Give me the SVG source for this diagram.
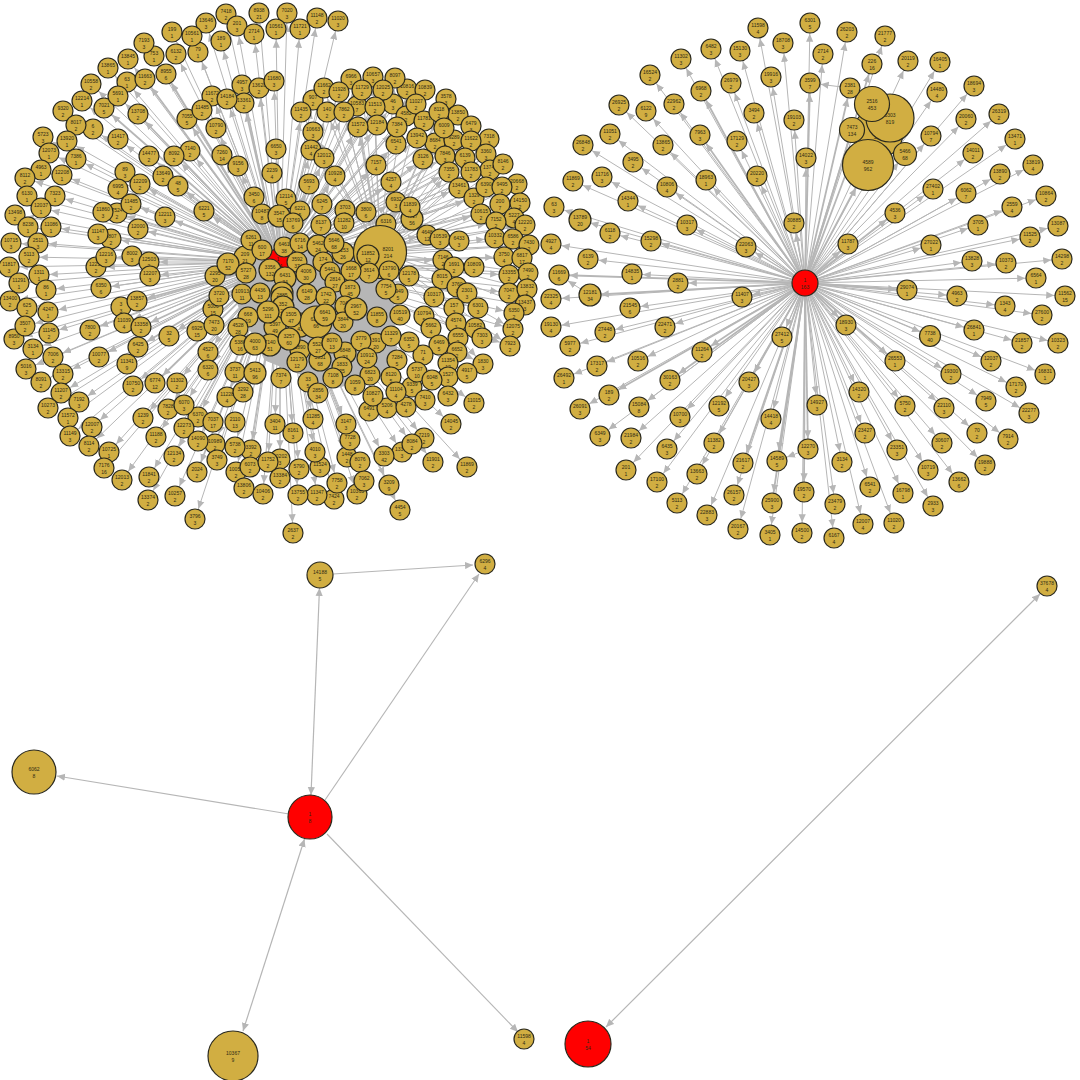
<svg xmlns="http://www.w3.org/2000/svg" width="1080" height="1080" viewBox="0 0 1080 1080">
<style>
.n circle{fill:#d1ae42;stroke:#2b2a1e;stroke-width:1.2}
.n .h{fill:#f00}
.n text{font-family:"Liberation Sans",Arial,sans-serif;font-size:5px;text-anchor:middle;fill:#2e2a14}
#connectors path{fill:none;stroke:#b6b6b6;stroke-width:1}
#connectors .t path{stroke-width:1.8}
#connectors .a path{marker-end:url(#a)}
#connectors .f path{fill:#b6b6b6;stroke-width:1}
#connectors .e path{marker-end:url(#e);stroke-width:1.1}
#connectors .d path{marker-start:url(#e);marker-end:url(#e);stroke-width:1.2}
</style>
<defs>
<marker id="a" markerUnits="userSpaceOnUse" markerWidth="20" markerHeight="8" viewBox="0 0 20 8" refX="18.8" refY="4" orient="auto"><path d="M0 .4L8 4 0 7.6Z" fill="#b6b6b6"/></marker>
<marker id="e" markerUnits="userSpaceOnUse" markerWidth="9" markerHeight="8" viewBox="0 0 9 8" refX="8" refY="4" orient="auto-start-reverse"><path d="M0 .4L8 4 0 7.6Z" fill="#b6b6b6"/></marker>
</defs>
<rect width="1080" height="1080" fill="#fff"/>
<g id="connectors">
<g class="f"><path d="M258 248L330 236 392 285 398 372 335 388 265 360 238 305Z"/></g>
<g class="a">
<path d="M280 262L226 14"/><path d="M280 262L259 13"/><path d="M280 262L206 23"/><path d="M280 262L237 26"/><path d="M280 262L254 34"/><path d="M280 262L172 32"/><path d="M280 262L192 36"/><path d="M280 262L221 41"/><path d="M280 262L198 52"/><path d="M280 262L144 43"/><path d="M280 262L154 56"/><path d="M280 262L176 54"/><path d="M280 262L128 59"/><path d="M280 262L108 68"/><path d="M280 262L127 82"/><path d="M280 262L91 84"/><path d="M280 262L118 96"/><path d="M280 262L82 101"/><path d="M280 262L63 111"/><path d="M280 262L76 125"/><path d="M280 262L93 129"/><path d="M280 262L43 137"/><path d="M280 262L67 141"/><path d="M280 262L118 139"/><path d="M280 262L49 153"/><path d="M280 262L76 159"/><path d="M280 262L41 170"/><path d="M280 262L62 175"/><path d="M280 262L25 178"/><path d="M280 262L27 196"/><path d="M280 262L55 196"/><path d="M280 262L41 208"/><path d="M280 262L15 215"/><path d="M280 262L28 227"/><path d="M280 262L51 227"/><path d="M280 262L11 243"/><path d="M280 262L38 243"/><path d="M280 262L29 257"/><path d="M280 262L125 172"/><path d="M280 262L118 189"/><path d="M280 262L140 184"/><path d="M280 262L149 156"/><path d="M280 262L174 156"/><path d="M280 262L190 151"/><path d="M280 262L163 176"/><path d="M280 262L178 186"/><path d="M280 262L131 204"/><path d="M280 262L103 212"/><path d="M280 262L117 213"/><path d="M280 262L165 217"/><path d="M280 262L204 211"/><path d="M280 262L138 229"/><path d="M280 262L98 234"/><path d="M280 262L111 239"/><path d="M280 262L106 257"/><path d="M280 262L132 256"/><path d="M280 262L149 262"/><path d="M280 262L96 267"/><path d="M280 262L202 110"/><path d="M280 262L212 96"/><path d="M280 262L227 99"/><path d="M280 262L242 85"/><path d="M280 262L259 88"/><path d="M280 262L216 128"/><path d="M280 262L222 155"/><path d="M280 262L238 166"/><path d="M280 262L287 13"/><path d="M280 262L276 29"/><path d="M280 262L300 29"/><path d="M280 262L317 18"/><path d="M280 262L338 21"/><path d="M280 262L274 81"/><path d="M280 262L351 79"/><path d="M280 262L373 77"/><path d="M280 262L395 78"/><path d="M280 262L324 88"/><path d="M280 262L339 92"/><path d="M280 262L362 90"/><path d="M280 262L383 90"/><path d="M280 262L407 89"/><path d="M280 262L425 90"/><path d="M280 262L446 99"/><path d="M280 262L313 100"/><path d="M280 262L301 112"/><path d="M280 262L327 112"/><path d="M280 262L344 112"/><path d="M280 262L357 106"/><path d="M280 262L375 107"/><path d="M280 262L393 104"/><path d="M280 262L406 116"/><path d="M280 262L416 104"/><path d="M280 262L439 112"/><path d="M280 262L458 115"/><path d="M280 262L471 126"/><path d="M280 262L424 121"/><path d="M280 262L444 128"/><path d="M280 262L397 127"/><path d="M280 262L377 125"/><path d="M280 262L358 127"/><path d="M280 262L313 132"/><path d="M280 262L417 138"/><path d="M280 262L396 144"/><path d="M280 262L435 143"/><path d="M280 262L454 140"/><path d="M280 262L471 141"/><path d="M280 262L489 139"/><path d="M280 262L276 149"/><path d="M280 262L311 150"/><path d="M280 262L324 158"/><path d="M280 262L486 154"/><path d="M280 262L423 159"/><path d="M280 262L445 156"/><path d="M280 262L465 158"/><path d="M280 262L503 164"/><path d="M280 262L490 170"/><path d="M280 262L376 165"/><path d="M280 262L449 172"/><path d="M280 262L471 172"/><path d="M280 262L459 188"/><path d="M280 262L335 176"/><path d="M280 262L309 184"/><path d="M280 262L391 182"/><path d="M280 262L486 187"/><path d="M280 262L502 187"/><path d="M280 262L517 184"/><path d="M280 262L474 198"/><path d="M280 262L500 204"/><path d="M280 262L520 203"/><path d="M280 262L396 202"/><path d="M280 262L410 207"/><path d="M280 262L481 214"/><path d="M280 262L496 222"/><path d="M280 262L514 218"/><path d="M280 262L525 225"/><path d="M280 262L427 235"/><path d="M280 262L440 239"/><path d="M280 262L459 241"/><path d="M280 262L495 238"/><path d="M280 262L513 239"/><path d="M280 262L529 245"/><path d="M280 262L504 257"/><path d="M280 262L522 258"/><path d="M280 262L443 260"/><path d="M280 262L454 267"/><path d="M280 262L474 267"/><path d="M280 262L509 275"/><path d="M280 262L528 273"/><path d="M280 262L527 289"/><path d="M280 262L509 293"/><path d="M280 262L525 305"/><path d="M280 262L514 313"/><path d="M280 262L513 329"/><path d="M280 262L510 346"/><path d="M280 262L483 364"/><path d="M280 262L482 338"/><path d="M280 262L475 328"/><path d="M280 262L478 308"/><path d="M280 262L467 293"/><path d="M280 262L467 373"/><path d="M280 262L474 403"/><path d="M280 262L451 424"/><path d="M280 262L467 467"/><path d="M280 262L433 462"/><path d="M280 262L424 438"/><path d="M280 262L412 444"/><path d="M280 262L402 452"/><path d="M280 262L384 456"/><path d="M280 262L389 485"/><path d="M280 262L400 510"/><path d="M280 262L364 481"/><path d="M280 262L360 462"/><path d="M280 262L347 457"/><path d="M280 262L350 440"/><path d="M280 262L346 424"/><path d="M280 262L313 419"/><path d="M280 262L293 433"/><path d="M280 262L275 424"/><path d="M280 262L315 452"/><path d="M280 262L320 467"/><path d="M280 262L299 469"/><path d="M280 262L280 459"/><path d="M280 262L280 478"/><path d="M280 262L337 483"/><path d="M280 262L357 494"/><path d="M280 262L334 499"/><path d="M280 262L317 495"/><path d="M280 262L298 495"/><path d="M280 262L293 533"/><path d="M280 262L19 283"/><path d="M280 262L39 275"/><path d="M280 262L9 267"/><path d="M280 262L10 301"/><path d="M280 262L46 290"/><path d="M280 262L27 308"/><path d="M280 262L48 312"/><path d="M280 262L25 326"/><path d="M280 262L49 333"/><path d="M280 262L14 339"/><path d="M280 262L33 349"/><path d="M280 262L53 357"/><path d="M280 262L26 369"/><path d="M280 262L41 382"/><path d="M280 262L63 374"/><path d="M280 262L61 393"/><path d="M280 262L79 402"/><path d="M280 262L48 408"/><path d="M280 262L68 418"/><path d="M280 262L70 436"/><path d="M280 262L92 427"/><path d="M280 262L89 446"/><path d="M280 262L109 452"/><path d="M280 262L104 468"/><path d="M280 262L122 480"/><path d="M280 262L150 276"/><path d="M280 262L101 288"/><path d="M280 262L121 307"/><path d="M280 262L124 323"/><path d="M280 262L90 330"/><path d="M280 262L169 336"/><path d="M280 262L99 357"/><path d="M280 262L127 364"/><path d="M280 262L133 386"/><path d="M280 262L177 383"/><path d="M280 262L143 418"/><path d="M280 262L168 409"/><path d="M280 262L184 405"/><path d="M280 262L198 417"/><path d="M280 262L184 428"/><path d="M280 262L156 437"/><path d="M280 262L198 441"/><path d="M280 262L215 444"/><path d="M280 262L235 447"/><path d="M280 262L251 450"/><path d="M280 262L217 460"/><path d="M280 262L174 456"/><path d="M280 262L149 477"/><path d="M280 262L148 500"/><path d="M280 262L175 496"/><path d="M280 262L195 519"/><path d="M280 262L236 472"/><path d="M280 262L250 467"/><path d="M280 262L268 462"/><path d="M280 262L244 488"/><path d="M280 262L263 494"/><path d="M280 262L208 352"/><path d="M280 262L208 370"/><path d="M380 252L351 79"/><path d="M380 252L373 77"/><path d="M380 252L395 78"/><path d="M380 252L324 88"/><path d="M380 252L339 92"/><path d="M380 252L362 90"/><path d="M380 252L407 89"/><path d="M380 252L425 90"/><path d="M380 252L446 99"/><path d="M380 252L439 112"/><path d="M380 252L458 115"/><path d="M380 252L471 126"/><path d="M380 252L444 128"/><path d="M380 252L301 112"/><path d="M380 252L327 112"/><path d="M380 252L344 112"/><path d="M380 252L357 106"/><path d="M380 252L375 107"/><path d="M380 252L313 132"/><path d="M380 252L358 127"/><path d="M380 252L435 143"/><path d="M380 252L471 141"/><path d="M380 252L489 139"/><path d="M380 252L486 154"/><path d="M380 252L311 150"/><path d="M380 252L324 158"/><path d="M380 252L449 172"/><path d="M380 252L471 172"/><path d="M380 252L503 164"/><path d="M380 252L486 187"/><path d="M380 252L517 184"/><path d="M380 252L500 204"/><path d="M380 252L520 203"/><path d="M380 252L525 225"/><path d="M380 252L529 245"/><path d="M380 252L528 273"/><path d="M380 252L527 289"/><path d="M380 252L525 305"/><path d="M380 252L513 329"/><path d="M380 252L510 346"/><path d="M380 252L483 364"/><path d="M380 252L482 338"/>
<path d="M805 283L758 28"/><path d="M805 283L810 23"/><path d="M805 283L783 43"/><path d="M805 283L711 49"/><path d="M805 283L740 51"/><path d="M805 283L681 59"/><path d="M805 283L771 77"/><path d="M805 283L650 75"/><path d="M805 283L731 83"/><path d="M805 283L619 105"/><path d="M805 283L646 111"/><path d="M805 283L674 104"/><path d="M805 283L754 113"/><path d="M805 283L794 120"/><path d="M805 283L610 134"/><path d="M805 283L737 141"/><path d="M805 283L583 145"/><path d="M805 283L663 145"/><path d="M805 283L806 158"/><path d="M805 283L633 162"/><path d="M805 283L706 180"/><path d="M805 283L757 176"/><path d="M805 283L602 177"/><path d="M805 283L573 181"/><path d="M805 283L667 187"/><path d="M805 283L628 201"/><path d="M805 283L554 207"/><path d="M805 283L580 220"/><path d="M805 283L610 233"/><path d="M805 283L687 225"/><path d="M805 283L794 223"/><path d="M805 283L651 241"/><path d="M805 283L746 247"/><path d="M805 283L551 244"/><path d="M805 283L588 259"/><path d="M805 283L632 274"/><path d="M805 283L847 32"/><path d="M805 283L885 36"/><path d="M805 283L823 54"/><path d="M805 283L908 61"/><path d="M805 283L940 62"/><path d="M805 283L937 92"/><path d="M805 283L974 86"/><path d="M805 283L905 154"/><path d="M805 283L931 136"/><path d="M805 283L966 119"/><path d="M805 283L999 114"/><path d="M805 283L1015 139"/><path d="M805 283L973 153"/><path d="M805 283L1033 165"/><path d="M805 283L1000 174"/><path d="M805 283L933 189"/><path d="M805 283L966 193"/><path d="M805 283L1012 207"/><path d="M805 283L1046 196"/><path d="M805 283L978 225"/><path d="M805 283L931 245"/><path d="M805 283L1030 237"/><path d="M805 283L1058 226"/><path d="M805 283L1062 259"/><path d="M805 283L972 261"/><path d="M805 283L1006 263"/><path d="M805 283L678 283"/><path d="M805 283L742 297"/><path d="M805 283L551 299"/><path d="M805 283L630 308"/><path d="M805 283L551 327"/><path d="M805 283L570 346"/><path d="M805 283L605 332"/><path d="M805 283L665 327"/><path d="M805 283L782 337"/><path d="M805 283L638 361"/><path d="M805 283L597 366"/><path d="M805 283L564 378"/><path d="M805 283L580 409"/><path d="M805 283L639 407"/><path d="M805 283L719 406"/><path d="M805 283L680 417"/><path d="M805 283L771 419"/><path d="M805 283L600 436"/><path d="M805 283L631 438"/><path d="M805 283L714 443"/><path d="M805 283L667 449"/><path d="M805 283L626 470"/><path d="M805 283L657 482"/><path d="M805 283L697 474"/><path d="M805 283L734 495"/><path d="M805 283L677 503"/><path d="M805 283L707 515"/><path d="M805 283L738 529"/><path d="M805 283L770 535"/><path d="M805 283L802 533"/><path d="M805 283L1036 278"/><path d="M805 283L1065 296"/><path d="M805 283L957 296"/><path d="M805 283L1005 306"/><path d="M805 283L1042 315"/><path d="M805 283L974 330"/><path d="M805 283L930 336"/><path d="M805 283L1022 343"/><path d="M805 283L1058 343"/><path d="M805 283L991 361"/><path d="M805 283L951 374"/><path d="M805 283L1045 374"/><path d="M805 283L1016 387"/><path d="M805 283L859 392"/><path d="M805 283L986 401"/><path d="M805 283L905 406"/><path d="M805 283L944 408"/><path d="M805 283L1029 413"/><path d="M805 283L817 405"/><path d="M805 283L865 433"/><path d="M805 283L977 433"/><path d="M805 283L1008 439"/><path d="M805 283L942 443"/><path d="M805 283L897 450"/><path d="M805 283L842 462"/><path d="M805 283L985 465"/><path d="M805 283L928 470"/><path d="M805 283L959 482"/><path d="M805 283L870 487"/><path d="M805 283L903 493"/><path d="M805 283L933 506"/><path d="M805 283L835 504"/><path d="M805 283L863 524"/><path d="M805 283L894 523"/><path d="M805 283L834 538"/><path d="M590 295L559 275"/><path d="M850 88L810 83"/><path d="M808 449L777 461"/>
</g>
<g class="a t">
<path d="M280 262L166 74"/><path d="M280 262L145 79"/><path d="M280 262L104 108"/><path d="M280 262L138 114"/><path d="M280 262L187 119"/><path d="M280 262L244 103"/><path d="M280 262L137 301"/><path d="M280 262L141 327"/><path d="M280 262L138 347"/><path d="M280 262L155 383"/><path d="M280 262L197 331"/><path d="M280 262L197 472"/><path d="M280 262L227 397"/>
<path d="M805 283L810 83"/><path d="M805 283L701 91"/><path d="M805 283L700 135"/><path d="M805 283L850 88"/><path d="M805 283L872 64"/><path d="M805 283L848 244"/><path d="M805 283L895 213"/><path d="M805 283L907 290"/><path d="M805 283L590 295"/><path d="M805 283L702 352"/><path d="M805 283L670 380"/><path d="M805 283L609 395"/><path d="M805 283L749 382"/><path d="M805 283L743 463"/><path d="M805 283L777 461"/><path d="M805 283L808 449"/><path d="M805 283L804 492"/><path d="M805 283L772 503"/><path d="M805 283L846 325"/><path d="M805 283L895 361"/><path d="M805 283L559 275"/>
</g>
<g class="t"><path d="M805 283L856 187"/><path d="M805 283L852 130"/><path d="M805 283L872 104"/></g>
<g class="e"><path d="M805 283L856 188"/><path d="M333 574L473 565"/><path d="M325 800L479 574"/><path d="M289 814L57 776"/><path d="M327 834L518 1032"/></g>
<g class="d"><path d="M311 795L319.5 588"/><path d="M304.5 839L243 1031"/><path d="M606 1027L1040 594"/></g>
</g>
<g id="nodes" class="n">
<g id="hubL" transform="translate(278 262)"><circle class="h" r="13"/><text y="-1">1</text><text y="5.5">394</text></g>
<g id="L7418" transform="translate(226 14)"><circle r="10"/><text y="-1">7418</text><text y="5.5">2</text></g>
<g id="L8938" transform="translate(259 13)"><circle r="10"/><text y="-1">8938</text><text y="5.5">21</text></g>
<g id="L201" transform="translate(237 26)"><circle r="10"/><text y="-1">201</text><text y="5.5">3</text></g>
<g id="L13646" transform="translate(206 23)"><circle r="10"/><text y="-1">13646</text><text y="5.5">3</text></g>
<g id="L2714" transform="translate(254 34)"><circle r="10"/><text y="-1">2714</text><text y="5.5">1</text></g>
<g id="L199" transform="translate(172 32)"><circle r="10"/><text y="-1">199</text><text y="5.5">1</text></g>
<g id="L79" transform="translate(198 52)"><circle r="10"/><text y="-1">79</text><text y="5.5">1</text></g>
<g id="L10561" transform="translate(192 36)"><circle r="10"/><text y="-1">10561</text><text y="5.5">1</text></g>
<g id="L189" transform="translate(221 41)"><circle r="10"/><text y="-1">189</text><text y="5.5">1</text></g>
<g id="L753" transform="translate(154 56)"><circle r="10"/><text y="-1">753</text><text y="5.5">1</text></g>
<g id="L7193" transform="translate(144 43)"><circle r="10"/><text y="-1">7193</text><text y="5.5">3</text></g>
<g id="L6132" transform="translate(176 54)"><circle r="10"/><text y="-1">6132</text><text y="5.5">2</text></g>
<g id="L13845" transform="translate(128 59)"><circle r="10"/><text y="-1">13845</text><text y="5.5">1</text></g>
<g id="L13865" transform="translate(108 68)"><circle r="10"/><text y="-1">13865</text><text y="5.5">1</text></g>
<g id="L8955" transform="translate(166 74)"><circle r="10"/><text y="-1">8955</text><text y="5.5">6</text></g>
<g id="L63" transform="translate(127 82)"><circle r="10"/><text y="-1">63</text><text y="5.5">1</text></g>
<g id="L11663" transform="translate(145 79)"><circle r="10"/><text y="-1">11663</text><text y="5.5">2</text></g>
<g id="L10558" transform="translate(91 84)"><circle r="10"/><text y="-1">10558</text><text y="5.5">2</text></g>
<g id="L12214" transform="translate(82 101)"><circle r="10"/><text y="-1">12214</text><text y="5.5">1</text></g>
<g id="L7021" transform="translate(104 108)"><circle r="10"/><text y="-1">7021</text><text y="5.5">5</text></g>
<g id="L5691" transform="translate(118 96)"><circle r="10"/><text y="-1">5691</text><text y="5.5">1</text></g>
<g id="L9320" transform="translate(63 111)"><circle r="10"/><text y="-1">9320</text><text y="5.5">2</text></g>
<g id="L13708" transform="translate(138 114)"><circle r="10"/><text y="-1">13708</text><text y="5.5">2</text></g>
<g id="L6" transform="translate(93 129)"><circle r="10"/><text y="-1">6</text><text y="5.5">2</text></g>
<g id="L8017" transform="translate(76 125)"><circle r="10"/><text y="-1">8017</text><text y="5.5">2</text></g>
<g id="L5723" transform="translate(43 137)"><circle r="10"/><text y="-1">5723</text><text y="5.5">3</text></g>
<g id="L13920" transform="translate(67 141)"><circle r="10"/><text y="-1">13920</text><text y="5.5">1</text></g>
<g id="L11417" transform="translate(118 139)"><circle r="10"/><text y="-1">11417</text><text y="5.5">2</text></g>
<g id="L12073" transform="translate(49 153)"><circle r="10"/><text y="-1">12073</text><text y="5.5">1</text></g>
<g id="L7386" transform="translate(76 159)"><circle r="10"/><text y="-1">7386</text><text y="5.5">1</text></g>
<g id="L4963" transform="translate(41 170)"><circle r="10"/><text y="-1">4963</text><text y="5.5">1</text></g>
<g id="L12208" transform="translate(62 175)"><circle r="10"/><text y="-1">12208</text><text y="5.5">1</text></g>
<g id="L8112" transform="translate(25 178)"><circle r="10"/><text y="-1">8112</text><text y="5.5">2</text></g>
<g id="L6130" transform="translate(27 196)"><circle r="10"/><text y="-1">6130</text><text y="5.5">1</text></g>
<g id="L7323" transform="translate(55 196)"><circle r="10"/><text y="-1">7323</text><text y="5.5">1</text></g>
<g id="L12037" transform="translate(41 208)"><circle r="10"/><text y="-1">12037</text><text y="5.5">1</text></g>
<g id="L13498" transform="translate(15 215)"><circle r="10"/><text y="-1">13498</text><text y="5.5">2</text></g>
<g id="L8238" transform="translate(28 227)"><circle r="10"/><text y="-1">8238</text><text y="5.5">1</text></g>
<g id="L11086" transform="translate(51 227)"><circle r="10"/><text y="-1">11086</text><text y="5.5">1</text></g>
<g id="L10715" transform="translate(11 243)"><circle r="10"/><text y="-1">10715</text><text y="5.5">3</text></g>
<g id="L2511" transform="translate(38 243)"><circle r="10"/><text y="-1">2511</text><text y="5.5">3</text></g>
<g id="L11817" transform="translate(9 267)"><circle r="10"/><text y="-1">11817</text><text y="5.5">3</text></g>
<g id="L5113" transform="translate(29 257)"><circle r="10"/><text y="-1">5113</text><text y="5.5">2</text></g>
<g id="L1311" transform="translate(39 275)"><circle r="10"/><text y="-1">1311</text><text y="5.5">1</text></g>
<g id="L11291" transform="translate(19 283)"><circle r="10"/><text y="-1">11291</text><text y="5.5">1</text></g>
<g id="L89" transform="translate(125 172)"><circle r="10"/><text y="-1">89</text><text y="5.5">3</text></g>
<g id="L12209" transform="translate(140 184)"><circle r="10"/><text y="-1">12209</text><text y="5.5">2</text></g>
<g id="L6995" transform="translate(118 189)"><circle r="10"/><text y="-1">6995</text><text y="5.5">4</text></g>
<g id="L14477" transform="translate(149 156)"><circle r="10"/><text y="-1">14477</text><text y="5.5">2</text></g>
<g id="L7140" transform="translate(190 151)"><circle r="10"/><text y="-1">7140</text><text y="5.5">2</text></g>
<g id="L8092" transform="translate(174 156)"><circle r="10"/><text y="-1">8092</text><text y="5.5">2</text></g>
<g id="L13649" transform="translate(163 176)"><circle r="10"/><text y="-1">13649</text><text y="5.5">2</text></g>
<g id="L48" transform="translate(178 186)"><circle r="10"/><text y="-1">48</text><text y="5.5">5</text></g>
<g id="L7524" transform="translate(117 213)"><circle r="10"/><text y="-1">7524</text><text y="5.5">2</text></g>
<g id="L11485" transform="translate(131 204)"><circle r="10"/><text y="-1">11485</text><text y="5.5">2</text></g>
<g id="L11860" transform="translate(103 212)"><circle r="10"/><text y="-1">11860</text><text y="5.5">3</text></g>
<g id="L12211" transform="translate(165 217)"><circle r="10"/><text y="-1">12211</text><text y="5.5">3</text></g>
<g id="L6221" transform="translate(204 211)"><circle r="10"/><text y="-1">6221</text><text y="5.5">5</text></g>
<g id="L12000" transform="translate(138 229)"><circle r="10"/><text y="-1">12000</text><text y="5.5">2</text></g>
<g id="L6807" transform="translate(111 239)"><circle r="10"/><text y="-1">6807</text><text y="5.5">2</text></g>
<g id="L11147" transform="translate(98 234)"><circle r="10"/><text y="-1">11147</text><text y="5.5">3</text></g>
<g id="L12255" transform="translate(96 267)"><circle r="10"/><text y="-1">12255</text><text y="5.5">2</text></g>
<g id="L12216" transform="translate(106 257)"><circle r="10"/><text y="-1">12216</text><text y="5.5">3</text></g>
<g id="L8002" transform="translate(132 256)"><circle r="10"/><text y="-1">8002</text><text y="5.5">3</text></g>
<g id="L12503" transform="translate(149 262)"><circle r="10"/><text y="-1">12503</text><text y="5.5">2</text></g>
<g id="L7055" transform="translate(187 119)"><circle r="10"/><text y="-1">7055</text><text y="5.5">5</text></g>
<g id="L11672" transform="translate(212 96)"><circle r="10"/><text y="-1">11672</text><text y="5.5">2</text></g>
<g id="L11485b" transform="translate(202 110)"><circle r="10"/><text y="-1">11485</text><text y="5.5">2</text></g>
<g id="L4957" transform="translate(242 85)"><circle r="10"/><text y="-1">4957</text><text y="5.5">3</text></g>
<g id="L13361" transform="translate(244 103)"><circle r="10"/><text y="-1">13361</text><text y="5.5">2</text></g>
<g id="L14184" transform="translate(227 99)"><circle r="10"/><text y="-1">14184</text><text y="5.5">2</text></g>
<g id="L13628" transform="translate(259 88)"><circle r="10"/><text y="-1">13628</text><text y="5.5">2</text></g>
<g id="L10790" transform="translate(216 128)"><circle r="10"/><text y="-1">10790</text><text y="5.5">2</text></g>
<g id="L7260" transform="translate(222 155)"><circle r="10"/><text y="-1">7260</text><text y="5.5">14</text></g>
<g id="L9156" transform="translate(238 166)"><circle r="10"/><text y="-1">9156</text><text y="5.5">3</text></g>
<g id="L3450" transform="translate(254 197)"><circle r="10"/><text y="-1">3450</text><text y="5.5">6</text></g>
<g id="L10487" transform="translate(262 214)"><circle r="10"/><text y="-1">10487</text><text y="5.5">8</text></g>
<g id="L7020" transform="translate(287 13)"><circle r="10"/><text y="-1">7020</text><text y="5.5">3</text></g>
<g id="L10561b" transform="translate(276 29)"><circle r="10"/><text y="-1">10561</text><text y="5.5">1</text></g>
<g id="L11721" transform="translate(300 29)"><circle r="10"/><text y="-1">11721</text><text y="5.5">1</text></g>
<g id="L11148" transform="translate(317 18)"><circle r="10"/><text y="-1">11148</text><text y="5.5">2</text></g>
<g id="L11020" transform="translate(338 21)"><circle r="10"/><text y="-1">11020</text><text y="5.5">3</text></g>
<g id="L11680" transform="translate(274 81)"><circle r="10"/><text y="-1">11680</text><text y="5.5">3</text></g>
<g id="L6966" transform="translate(351 79)"><circle r="10"/><text y="-1">6966</text><text y="5.5">3</text></g>
<g id="L10657" transform="translate(373 77)"><circle r="10"/><text y="-1">10657</text><text y="5.5">3</text></g>
<g id="L10816" transform="translate(407 89)"><circle r="10"/><text y="-1">10816</text><text y="5.5">2</text></g>
<g id="L8097" transform="translate(395 78)"><circle r="10"/><text y="-1">8097</text><text y="5.5">2</text></g>
<g id="L10839" transform="translate(425 90)"><circle r="10"/><text y="-1">10839</text><text y="5.5">2</text></g>
<g id="L3578" transform="translate(446 99)"><circle r="10"/><text y="-1">3578</text><text y="5.5">3</text></g>
<g id="L907" transform="translate(313 100)"><circle r="10"/><text y="-1">907</text><text y="5.5">2</text></g>
<g id="L11662" transform="translate(324 88)"><circle r="10"/><text y="-1">11662</text><text y="5.5">2</text></g>
<g id="L10583" transform="translate(357 106)"><circle r="10"/><text y="-1">10583</text><text y="5.5">7</text></g>
<g id="L11928" transform="translate(339 92)"><circle r="10"/><text y="-1">11928</text><text y="5.5">2</text></g>
<g id="L11729" transform="translate(362 90)"><circle r="10"/><text y="-1">11729</text><text y="5.5">2</text></g>
<g id="L46" transform="translate(393 104)"><circle r="10"/><text y="-1">46</text><text y="5.5">3</text></g>
<g id="L12025" transform="translate(383 90)"><circle r="10"/><text y="-1">12025</text><text y="5.5">2</text></g>
<g id="L11435" transform="translate(301 112)"><circle r="10"/><text y="-1">11435</text><text y="5.5">2</text></g>
<g id="L140" transform="translate(327 112)"><circle r="10"/><text y="-1">140</text><text y="5.5">2</text></g>
<g id="L7862" transform="translate(344 112)"><circle r="10"/><text y="-1">7862</text><text y="5.5">2</text></g>
<g id="L11513" transform="translate(375 107)"><circle r="10"/><text y="-1">11513</text><text y="5.5">2</text></g>
<g id="L4582" transform="translate(406 116)"><circle r="10"/><text y="-1">4582</text><text y="5.5">2</text></g>
<g id="L11027" transform="translate(416 104)"><circle r="10"/><text y="-1">11027</text><text y="5.5">2</text></g>
<g id="L13850" transform="translate(458 115)"><circle r="10"/><text y="-1">13850</text><text y="5.5">2</text></g>
<g id="L6479" transform="translate(471 126)"><circle r="10"/><text y="-1">6479</text><text y="5.5">3</text></g>
<g id="L11781" transform="translate(424 121)"><circle r="10"/><text y="-1">11781</text><text y="5.5">2</text></g>
<g id="L8118" transform="translate(439 112)"><circle r="10"/><text y="-1">8118</text><text y="5.5">2</text></g>
<g id="L8684" transform="translate(435 143)"><circle r="10"/><text y="-1">8684</text><text y="5.5">2</text></g>
<g id="L9289" transform="translate(454 140)"><circle r="10"/><text y="-1">9289</text><text y="5.5">2</text></g>
<g id="L6009" transform="translate(444 128)"><circle r="10"/><text y="-1">6009</text><text y="5.5">2</text></g>
<g id="L6541" transform="translate(396 144)"><circle r="10"/><text y="-1">6541</text><text y="5.5">2</text></g>
<g id="L7384" transform="translate(397 127)"><circle r="10"/><text y="-1">7384</text><text y="5.5">2</text></g>
<g id="L12184" transform="translate(377 125)"><circle r="10"/><text y="-1">12184</text><text y="5.5">2</text></g>
<g id="L11572" transform="translate(358 127)"><circle r="10"/><text y="-1">11572</text><text y="5.5">2</text></g>
<g id="L10663" transform="translate(313 132)"><circle r="10"/><text y="-1">10663</text><text y="5.5">3</text></g>
<g id="L13942" transform="translate(417 138)"><circle r="10"/><text y="-1">13942</text><text y="5.5">2</text></g>
<g id="L7318" transform="translate(489 139)"><circle r="10"/><text y="-1">7318</text><text y="5.5">3</text></g>
<g id="L11622" transform="translate(471 141)"><circle r="10"/><text y="-1">11622</text><text y="5.5">2</text></g>
<g id="L6650" transform="translate(276 149)"><circle r="10"/><text y="-1">6650</text><text y="5.5">3</text></g>
<g id="L11442" transform="translate(311 150)"><circle r="10"/><text y="-1">11442</text><text y="5.5">4</text></g>
<g id="L12012" transform="translate(324 158)"><circle r="10"/><text y="-1">12012</text><text y="5.5">3</text></g>
<g id="L3360" transform="translate(486 154)"><circle r="10"/><text y="-1">3360</text><text y="5.5">3</text></g>
<g id="L3126" transform="translate(423 159)"><circle r="10"/><text y="-1">3126</text><text y="5.5">2</text></g>
<g id="L7846" transform="translate(445 156)"><circle r="10"/><text y="-1">7846</text><text y="5.5">3</text></g>
<g id="L13746" transform="translate(490 170)"><circle r="10"/><text y="-1">13746</text><text y="5.5">2</text></g>
<g id="L6139" transform="translate(465 158)"><circle r="10"/><text y="-1">6139</text><text y="5.5">2</text></g>
<g id="L8146" transform="translate(503 164)"><circle r="10"/><text y="-1">8146</text><text y="5.5">2</text></g>
<g id="L7157" transform="translate(376 165)"><circle r="10"/><text y="-1">7157</text><text y="5.5">4</text></g>
<g id="L7355" transform="translate(449 172)"><circle r="10"/><text y="-1">7355</text><text y="5.5">2</text></g>
<g id="L11783" transform="translate(471 172)"><circle r="10"/><text y="-1">11783</text><text y="5.5">2</text></g>
<g id="L2239" transform="translate(272 173)"><circle r="10"/><text y="-1">2239</text><text y="5.5">4</text></g>
<g id="L10928" transform="translate(335 176)"><circle r="10"/><text y="-1">10928</text><text y="5.5">4</text></g>
<g id="L5693" transform="translate(309 184)"><circle r="10"/><text y="-1">5693</text><text y="5.5">7</text></g>
<g id="L4257" transform="translate(391 182)"><circle r="10"/><text y="-1">4257</text><text y="5.5">4</text></g>
<g id="L13461" transform="translate(459 188)"><circle r="10"/><text y="-1">13461</text><text y="5.5">2</text></g>
<g id="L1329" transform="translate(474 198)"><circle r="10"/><text y="-1">1329</text><text y="5.5">2</text></g>
<g id="L6390" transform="translate(486 187)"><circle r="10"/><text y="-1">6390</text><text y="5.5">2</text></g>
<g id="L20668" transform="translate(517 184)"><circle r="10"/><text y="-1">20668</text><text y="5.5">2</text></g>
<g id="L9495" transform="translate(502 187)"><circle r="10"/><text y="-1">9495</text><text y="5.5">2</text></g>
<g id="L200" transform="translate(500 204)"><circle r="10"/><text y="-1">200</text><text y="5.5">7</text></g>
<g id="L14150" transform="translate(520 203)"><circle r="10"/><text y="-1">14150</text><text y="5.5">2</text></g>
<g id="L10615" transform="translate(481 214)"><circle r="10"/><text y="-1">10615</text><text y="5.5">2</text></g>
<g id="L5227" transform="translate(514 218)"><circle r="10"/><text y="-1">5227</text><text y="5.5">4</text></g>
<g id="L7152" transform="translate(496 222)"><circle r="10"/><text y="-1">7152</text><text y="5.5">2</text></g>
<g id="L12220" transform="translate(525 225)"><circle r="10"/><text y="-1">12220</text><text y="5.5">2</text></g>
<g id="L10332" transform="translate(495 238)"><circle r="10"/><text y="-1">10332</text><text y="5.5">2</text></g>
<g id="L6586" transform="translate(513 239)"><circle r="10"/><text y="-1">6586</text><text y="5.5">2</text></g>
<g id="L7430" transform="translate(529 245)"><circle r="10"/><text y="-1">7430</text><text y="5.5">2</text></g>
<g id="L4917a" transform="translate(412 219)"><circle r="11"/><text y="-1">4917</text><text y="5.5">56</text></g>
<g id="L6932" transform="translate(396 202)"><circle r="10"/><text y="-1">6932</text><text y="5.5">3</text></g>
<g id="L11839" transform="translate(410 207)"><circle r="10"/><text y="-1">11839</text><text y="5.5">4</text></g>
<g id="L4648" transform="translate(427 235)"><circle r="10"/><text y="-1">4648</text><text y="5.5">12</text></g>
<g id="L10539" transform="translate(440 239)"><circle r="10"/><text y="-1">10539</text><text y="5.5">3</text></g>
<g id="L6433" transform="translate(459 241)"><circle r="10"/><text y="-1">6433</text><text y="5.5">3</text></g>
<g id="L3750" transform="translate(504 257)"><circle r="10"/><text y="-1">3750</text><text y="5.5">4</text></g>
<g id="L6817" transform="translate(522 258)"><circle r="10"/><text y="-1">6817</text><text y="5.5">17</text></g>
<g id="L7146" transform="translate(443 260)"><circle r="10"/><text y="-1">7146</text><text y="5.5">2</text></g>
<g id="L1691" transform="translate(454 267)"><circle r="10"/><text y="-1">1691</text><text y="5.5">2</text></g>
<g id="L10809" transform="translate(474 267)"><circle r="10"/><text y="-1">10809</text><text y="5.5">2</text></g>
<g id="L7490" transform="translate(528 273)"><circle r="10"/><text y="-1">7490</text><text y="5.5">2</text></g>
<g id="L13355" transform="translate(509 275)"><circle r="10"/><text y="-1">13355</text><text y="5.5">2</text></g>
<g id="L8015" transform="translate(442 279)"><circle r="10"/><text y="-1">8015</text><text y="5.5">7</text></g>
<g id="L3760" transform="translate(457 287)"><circle r="10"/><text y="-1">3760</text><text y="5.5">3</text></g>
<g id="L2301" transform="translate(467 293)"><circle r="10"/><text y="-1">2301</text><text y="5.5">3</text></g>
<g id="L7047" transform="translate(509 293)"><circle r="10"/><text y="-1">7047</text><text y="5.5">2</text></g>
<g id="L13832" transform="translate(527 289)"><circle r="10"/><text y="-1">13832</text><text y="5.5">2</text></g>
<g id="L13437" transform="translate(525 305)"><circle r="10"/><text y="-1">13437</text><text y="5.5">3</text></g>
<g id="L6350b" transform="translate(514 313)"><circle r="10"/><text y="-1">6350</text><text y="5.5">2</text></g>
<g id="L12075" transform="translate(513 329)"><circle r="10"/><text y="-1">12075</text><text y="5.5">2</text></g>
<g id="L7923" transform="translate(510 346)"><circle r="10"/><text y="-1">7923</text><text y="5.5">2</text></g>
<g id="L6301" transform="translate(478 308)"><circle r="10"/><text y="-1">6301</text><text y="5.5">3</text></g>
<g id="L10317" transform="translate(434 297)"><circle r="10"/><text y="-1">10317</text><text y="5.5">5</text></g>
<g id="L157" transform="translate(454 308)"><circle r="10"/><text y="-1">157</text><text y="5.5">3</text></g>
<g id="L10794" transform="translate(424 316)"><circle r="10"/><text y="-1">10794</text><text y="5.5">5</text></g>
<g id="L10582" transform="translate(475 328)"><circle r="10"/><text y="-1">10582</text><text y="5.5">2</text></g>
<g id="L4574" transform="translate(456 323)"><circle r="10"/><text y="-1">4574</text><text y="5.5">3</text></g>
<g id="L5662" transform="translate(431 328)"><circle r="10"/><text y="-1">5662</text><text y="5.5">4</text></g>
<g id="L6555" transform="translate(458 338)"><circle r="10"/><text y="-1">6555</text><text y="5.5">2</text></g>
<g id="L7303" transform="translate(482 338)"><circle r="10"/><text y="-1">7303</text><text y="5.5">3</text></g>
<g id="L6469" transform="translate(439 345)"><circle r="10"/><text y="-1">6469</text><text y="5.5">5</text></g>
<g id="L6652" transform="translate(457 352)"><circle r="10"/><text y="-1">6652</text><text y="5.5">2</text></g>
<g id="L71" transform="translate(423 355)"><circle r="10"/><text y="-1">71</text><text y="5.5">4</text></g>
<g id="L1830" transform="translate(483 364)"><circle r="10"/><text y="-1">1830</text><text y="5.5">3</text></g>
<g id="L11354" transform="translate(448 363)"><circle r="10"/><text y="-1">11354</text><text y="5.5">12</text></g>
<g id="L1527" transform="translate(448 377)"><circle r="10"/><text y="-1">1527</text><text y="5.5">3</text></g>
<g id="L4917b" transform="translate(467 373)"><circle r="10"/><text y="-1">4917</text><text y="5.5">5</text></g>
<g id="L6432" transform="translate(448 396)"><circle r="10"/><text y="-1">6432</text><text y="5.5">3</text></g>
<g id="L9339" transform="translate(412 387)"><circle r="10"/><text y="-1">9339</text><text y="5.5">5</text></g>
<g id="L5737" transform="translate(417 372)"><circle r="10"/><text y="-1">5737</text><text y="5.5">10</text></g>
<g id="L6048" transform="translate(432 380)"><circle r="10"/><text y="-1">6048</text><text y="5.5">5</text></g>
<g id="L7410" transform="translate(425 400)"><circle r="10"/><text y="-1">7410</text><text y="5.5">3</text></g>
<g id="L11015" transform="translate(474 403)"><circle r="10"/><text y="-1">11015</text><text y="5.5">2</text></g>
<g id="L14045" transform="translate(451 424)"><circle r="10"/><text y="-1">14045</text><text y="5.5">2</text></g>
<g id="L11869" transform="translate(467 467)"><circle r="10"/><text y="-1">11869</text><text y="5.5">2</text></g>
<g id="L11901" transform="translate(433 462)"><circle r="10"/><text y="-1">11901</text><text y="5.5">2</text></g>
<g id="L7219" transform="translate(424 438)"><circle r="10"/><text y="-1">7219</text><text y="5.5">2</text></g>
<g id="L13373" transform="translate(402 452)"><circle r="10"/><text y="-1">13373</text><text y="5.5">3</text></g>
<g id="L8084" transform="translate(412 444)"><circle r="10"/><text y="-1">8084</text><text y="5.5">2</text></g>
<g id="L3303" transform="translate(384 456)"><circle r="10"/><text y="-1">3303</text><text y="5.5">42</text></g>
<g id="L3209" transform="translate(389 485)"><circle r="10"/><text y="-1">3209</text><text y="5.5">9</text></g>
<g id="L4454" transform="translate(400 510)"><circle r="10"/><text y="-1">4454</text><text y="5.5">5</text></g>
<g id="L1448" transform="translate(347 457)"><circle r="10"/><text y="-1">1448</text><text y="5.5">2</text></g>
<g id="L7728" transform="translate(350 440)"><circle r="10"/><text y="-1">7728</text><text y="5.5">3</text></g>
<g id="L3147" transform="translate(346 424)"><circle r="10"/><text y="-1">3147</text><text y="5.5">3</text></g>
<g id="L8076" transform="translate(360 462)"><circle r="10"/><text y="-1">8076</text><text y="5.5">2</text></g>
<g id="L10363" transform="translate(357 494)"><circle r="10"/><text y="-1">10363</text><text y="5.5">2</text></g>
<g id="L7062" transform="translate(364 481)"><circle r="10"/><text y="-1">7062</text><text y="5.5">3</text></g>
<g id="L11285" transform="translate(313 419)"><circle r="10"/><text y="-1">11285</text><text y="5.5">4</text></g>
<g id="L8161" transform="translate(293 433)"><circle r="10"/><text y="-1">8161</text><text y="5.5">3</text></g>
<g id="L3404" transform="translate(275 424)"><circle r="10"/><text y="-1">3404</text><text y="5.5">11</text></g>
<g id="L11524" transform="translate(320 467)"><circle r="10"/><text y="-1">11524</text><text y="5.5">3</text></g>
<g id="L4010" transform="translate(315 452)"><circle r="10"/><text y="-1">4010</text><text y="5.5">3</text></g>
<g id="L5790" transform="translate(299 469)"><circle r="10"/><text y="-1">5790</text><text y="5.5">2</text></g>
<g id="L10202" transform="translate(280 459)"><circle r="10"/><text y="-1">10202</text><text y="5.5">3</text></g>
<g id="L13384" transform="translate(280 478)"><circle r="10"/><text y="-1">13384</text><text y="5.5">2</text></g>
<g id="L7424" transform="translate(334 499)"><circle r="10"/><text y="-1">7424</text><text y="5.5">2</text></g>
<g id="L7758" transform="translate(337 483)"><circle r="10"/><text y="-1">7758</text><text y="5.5">2</text></g>
<g id="L11347" transform="translate(317 495)"><circle r="10"/><text y="-1">11347</text><text y="5.5">2</text></g>
<g id="L13755" transform="translate(298 495)"><circle r="10"/><text y="-1">13755</text><text y="5.5">2</text></g>
<g id="L2637" transform="translate(293 533)"><circle r="10"/><text y="-1">2637</text><text y="5.5">2</text></g>
<g id="L13400" transform="translate(10 301)"><circle r="10"/><text y="-1">13400</text><text y="5.5">2</text></g>
<g id="L86" transform="translate(46 290)"><circle r="10"/><text y="-1">86</text><text y="5.5">1</text></g>
<g id="L625" transform="translate(27 308)"><circle r="10"/><text y="-1">625</text><text y="5.5">2</text></g>
<g id="L4247" transform="translate(48 312)"><circle r="10"/><text y="-1">4247</text><text y="5.5">1</text></g>
<g id="L8950" transform="translate(14 339)"><circle r="10"/><text y="-1">8950</text><text y="5.5">3</text></g>
<g id="L3507" transform="translate(25 326)"><circle r="10"/><text y="-1">3507</text><text y="5.5">2</text></g>
<g id="L11145" transform="translate(49 333)"><circle r="10"/><text y="-1">11145</text><text y="5.5">2</text></g>
<g id="L3134" transform="translate(33 349)"><circle r="10"/><text y="-1">3134</text><text y="5.5">1</text></g>
<g id="L7006" transform="translate(53 357)"><circle r="10"/><text y="-1">7006</text><text y="5.5">2</text></g>
<g id="L5016" transform="translate(26 369)"><circle r="10"/><text y="-1">5016</text><text y="5.5">3</text></g>
<g id="L8091" transform="translate(41 382)"><circle r="10"/><text y="-1">8091</text><text y="5.5">2</text></g>
<g id="L13315" transform="translate(63 374)"><circle r="10"/><text y="-1">13315</text><text y="5.5">2</text></g>
<g id="L7192" transform="translate(79 402)"><circle r="10"/><text y="-1">7192</text><text y="5.5">3</text></g>
<g id="L11207" transform="translate(61 393)"><circle r="10"/><text y="-1">11207</text><text y="5.5">2</text></g>
<g id="L10273" transform="translate(48 408)"><circle r="10"/><text y="-1">10273</text><text y="5.5">2</text></g>
<g id="L11572b" transform="translate(68 418)"><circle r="10"/><text y="-1">11572</text><text y="5.5">1</text></g>
<g id="L11149" transform="translate(70 436)"><circle r="10"/><text y="-1">11149</text><text y="5.5">3</text></g>
<g id="L12007" transform="translate(92 427)"><circle r="10"/><text y="-1">12007</text><text y="5.5">2</text></g>
<g id="L8114" transform="translate(89 446)"><circle r="10"/><text y="-1">8114</text><text y="5.5">2</text></g>
<g id="L10725" transform="translate(109 452)"><circle r="10"/><text y="-1">10725</text><text y="5.5">1</text></g>
<g id="L7176" transform="translate(104 468)"><circle r="10"/><text y="-1">7176</text><text y="5.5">16</text></g>
<g id="L12013" transform="translate(122 480)"><circle r="10"/><text y="-1">12013</text><text y="5.5">2</text></g>
<g id="L12207" transform="translate(150 276)"><circle r="10"/><text y="-1">12207</text><text y="5.5">3</text></g>
<g id="L6350" transform="translate(101 288)"><circle r="10"/><text y="-1">6350</text><text y="5.5">6</text></g>
<g id="L3" transform="translate(121 307)"><circle r="10"/><text y="-1">3</text><text y="5.5">3</text></g>
<g id="L13857" transform="translate(137 301)"><circle r="10"/><text y="-1">13857</text><text y="5.5">2</text></g>
<g id="L11039" transform="translate(124 323)"><circle r="10"/><text y="-1">11039</text><text y="5.5">4</text></g>
<g id="L13358" transform="translate(141 327)"><circle r="10"/><text y="-1">13358</text><text y="5.5">2</text></g>
<g id="L7800" transform="translate(90 330)"><circle r="10"/><text y="-1">7800</text><text y="5.5">2</text></g>
<g id="L32" transform="translate(169 336)"><circle r="10"/><text y="-1">32</text><text y="5.5">5</text></g>
<g id="L6425" transform="translate(138 347)"><circle r="10"/><text y="-1">6425</text><text y="5.5">2</text></g>
<g id="L10077" transform="translate(99 357)"><circle r="10"/><text y="-1">10077</text><text y="5.5">2</text></g>
<g id="L11341" transform="translate(127 364)"><circle r="10"/><text y="-1">11341</text><text y="5.5">9</text></g>
<g id="L10750" transform="translate(133 386)"><circle r="10"/><text y="-1">10750</text><text y="5.5">2</text></g>
<g id="L6774" transform="translate(155 383)"><circle r="10"/><text y="-1">6774</text><text y="5.5">12</text></g>
<g id="L11302" transform="translate(177 383)"><circle r="10"/><text y="-1">11302</text><text y="5.5">2</text></g>
<g id="L1239" transform="translate(143 418)"><circle r="10"/><text y="-1">1239</text><text y="5.5">2</text></g>
<g id="L7828" transform="translate(168 409)"><circle r="10"/><text y="-1">7828</text><text y="5.5">2</text></g>
<g id="L6370" transform="translate(198 417)"><circle r="10"/><text y="-1">6370</text><text y="5.5">2</text></g>
<g id="L6070" transform="translate(184 405)"><circle r="10"/><text y="-1">6070</text><text y="5.5">3</text></g>
<g id="L7037" transform="translate(213 422)"><circle r="10"/><text y="-1">7037</text><text y="5.5">17</text></g>
<g id="L2110" transform="translate(235 422)"><circle r="10"/><text y="-1">2110</text><text y="5.5">13</text></g>
<g id="L12273" transform="translate(184 428)"><circle r="10"/><text y="-1">12273</text><text y="5.5">2</text></g>
<g id="L11188" transform="translate(156 437)"><circle r="10"/><text y="-1">11188</text><text y="5.5">2</text></g>
<g id="L10989" transform="translate(215 444)"><circle r="10"/><text y="-1">10989</text><text y="5.5">2</text></g>
<g id="L14090" transform="translate(198 441)"><circle r="10"/><text y="-1">14090</text><text y="5.5">2</text></g>
<g id="L3392" transform="translate(251 450)"><circle r="10"/><text y="-1">3392</text><text y="5.5">2</text></g>
<g id="L5738" transform="translate(235 447)"><circle r="10"/><text y="-1">5738</text><text y="5.5">2</text></g>
<g id="L3749" transform="translate(217 460)"><circle r="10"/><text y="-1">3749</text><text y="5.5">3</text></g>
<g id="L12134" transform="translate(174 456)"><circle r="10"/><text y="-1">12134</text><text y="5.5">2</text></g>
<g id="L2024" transform="translate(197 472)"><circle r="10"/><text y="-1">2024</text><text y="5.5">2</text></g>
<g id="L11841" transform="translate(149 477)"><circle r="10"/><text y="-1">11841</text><text y="5.5">2</text></g>
<g id="L13374" transform="translate(148 500)"><circle r="10"/><text y="-1">13374</text><text y="5.5">2</text></g>
<g id="L10257" transform="translate(175 496)"><circle r="10"/><text y="-1">10257</text><text y="5.5">2</text></g>
<g id="L3796" transform="translate(195 519)"><circle r="10"/><text y="-1">3796</text><text y="5.5">3</text></g>
<g id="L10052" transform="translate(236 472)"><circle r="10"/><text y="-1">10052</text><text y="5.5">2</text></g>
<g id="L6073" transform="translate(250 467)"><circle r="10"/><text y="-1">6073</text><text y="5.5">2</text></g>
<g id="L11752" transform="translate(268 462)"><circle r="10"/><text y="-1">11752</text><text y="5.5">2</text></g>
<g id="L13806" transform="translate(244 488)"><circle r="10"/><text y="-1">13806</text><text y="5.5">2</text></g>
<g id="L10406" transform="translate(263 494)"><circle r="10"/><text y="-1">10406</text><text y="5.5">2</text></g>
<g id="L4527" transform="translate(208 352)"><circle r="10"/><text y="-1">4527</text><text y="5.5">6</text></g>
<g id="L6320" transform="translate(208 370)"><circle r="10"/><text y="-1">6320</text><text y="5.5">6</text></g>
<g id="L11228" transform="translate(227 397)"><circle r="10"/><text y="-1">11228</text><text y="5.5">4</text></g>
<g id="L3292" transform="translate(243 392)"><circle r="10"/><text y="-1">3292</text><text y="5.5">28</text></g>
<g id="L3737" transform="translate(235 372)"><circle r="10"/><text y="-1">3737</text><text y="5.5">11</text></g>
<g id="L5413" transform="translate(255 373)"><circle r="11"/><text y="-1">5413</text><text y="5.5">96</text></g>
<g id="L6925" transform="translate(197 331)"><circle r="10"/><text y="-1">6925</text><text y="5.5">15</text></g>
<g id="L5006" transform="translate(213 309)"><circle r="10"/><text y="-1">5006</text><text y="5.5">15</text></g>
<g id="L7473" transform="translate(214 325)"><circle r="10"/><text y="-1">7473</text><text y="5.5">20</text></g>
<g id="L2295" transform="translate(215 276)"><circle r="10"/><text y="-1">2295</text><text y="5.5">20</text></g>
<g id="L3720" transform="translate(219 296)"><circle r="10"/><text y="-1">3720</text><text y="5.5">12</text></g>
<g id="L209" transform="translate(245 257)"><circle r="11"/><text y="-1">209</text><text y="5.5">21</text></g>
<g id="L6261" transform="translate(251 240)"><circle r="10"/><text y="-1">6261</text><text y="5.5">11</text></g>
<g id="L7170" transform="translate(228 264)"><circle r="11"/><text y="-1">7170</text><text y="5.5">52</text></g>
<g id="L5727" transform="translate(246 273)"><circle r="10"/><text y="-1">5727</text><text y="5.5">28</text></g>
<g id="L600" transform="translate(262 250)"><circle r="10"/><text y="-1">600</text><text y="5.5">17</text></g>
<g id="L12114" transform="translate(286 199)"><circle r="10"/><text y="-1">12114</text><text y="5.5">5</text></g>
<g id="L6245" transform="translate(322 204)"><circle r="10"/><text y="-1">6245</text><text y="5.5">7</text></g>
<g id="L6221b" transform="translate(300 211)"><circle r="10"/><text y="-1">6221</text><text y="5.5">5</text></g>
<g id="L3547" transform="translate(279 216)"><circle r="11"/><text y="-1">3547</text><text y="5.5">15</text></g>
<g id="L13769" transform="translate(293 223)"><circle r="10"/><text y="-1">13769</text><text y="5.5">6</text></g>
<g id="L3703" transform="translate(345 210)"><circle r="10"/><text y="-1">3703</text><text y="5.5">6</text></g>
<g id="L11282" transform="translate(344 223)"><circle r="10"/><text y="-1">11282</text><text y="5.5">10</text></g>
<g id="L3800" transform="translate(366 212)"><circle r="10"/><text y="-1">3800</text><text y="5.5">6</text></g>
<g id="L8137" transform="translate(321 225)"><circle r="10"/><text y="-1">8137</text><text y="5.5">7</text></g>
<g id="L6316" transform="translate(386 224)"><circle r="10"/><text y="-1">6316</text><text y="5.5">3</text></g>
<g id="L6461" transform="translate(284 247)"><circle r="10"/><text y="-1">6461</text><text y="5.5">38</text></g>
<g id="L6253" transform="translate(343 253)"><circle r="11"/><text y="-1">6253</text><text y="5.5">26</text></g>
<g id="L6716" transform="translate(300 243)"><circle r="10"/><text y="-1">6716</text><text y="5.5">14</text></g>
<g id="L5462" transform="translate(318 246)"><circle r="11"/><text y="-1">5462</text><text y="5.5">24</text></g>
<g id="L5646" transform="translate(334 243)"><circle r="10"/><text y="-1">5646</text><text y="5.5">68</text></g>
<g id="L8201" transform="translate(380 252)"><circle r="26.5"/><text x="8" y="-1">8201</text><text x="8" y="5.5">214</text></g>
<g id="L11852" transform="translate(368 256)"><circle r="11"/><text y="-1">11852</text><text y="5.5">12</text></g>
<g id="L3592" transform="translate(297 262)"><circle r="10"/><text y="-1">3592</text><text y="5.5">37</text></g>
<g id="L174" transform="translate(323 262)"><circle r="10"/><text y="-1">174</text><text y="5.5">27</text></g>
<g id="L3356" transform="translate(270 270)"><circle r="11"/><text y="-1">3356</text><text y="5.5">132</text></g>
<g id="L544" transform="translate(330 272)"><circle r="10"/><text y="-1">5441</text><text y="5.5">13</text></g>
<g id="L13790" transform="translate(389 271)"><circle r="10"/><text y="-1">13790</text><text y="5.5">6</text></g>
<g id="L3614" transform="translate(369 273)"><circle r="10"/><text y="-1">3614</text><text y="5.5">7</text></g>
<g id="L1668" transform="translate(351 271)"><circle r="10"/><text y="-1">1668</text><text y="5.5">17</text></g>
<g id="L4006" transform="translate(306 274)"><circle r="10"/><text y="-1">4006</text><text y="5.5">30</text></g>
<g id="L6431" transform="translate(285 278)"><circle r="11"/><text y="-1">6431</text><text y="5.5">34</text></g>
<g id="L12178" transform="translate(409 276)"><circle r="10"/><text y="-1">12178</text><text y="5.5">5</text></g>
<g id="L2814" transform="translate(335 282)"><circle r="10"/><text y="-1">2814</text><text y="5.5">27</text></g>
<g id="L6949" transform="translate(398 294)"><circle r="10"/><text y="-1">6949</text><text y="5.5">5</text></g>
<g id="L7754" transform="translate(386 289)"><circle r="10"/><text y="-1">7754</text><text y="5.5">5</text></g>
<g id="L1873" transform="translate(350 290)"><circle r="10"/><text y="-1">1873</text><text y="5.5">45</text></g>
<g id="L10913" transform="translate(242 294)"><circle r="10"/><text y="-1">10913</text><text y="5.5">11</text></g>
<g id="L4436" transform="translate(260 293)"><circle r="10"/><text y="-1">4436</text><text y="5.5">13</text></g>
<g id="L2882a" transform="translate(282 293)"><circle r="11"/><text y="-1">2882</text><text y="5.5">54</text></g>
<g id="L2882b" transform="translate(282 298)"><circle r="11"/><text y="-1">2885</text><text y="5.5">31</text></g>
<g id="L352" transform="translate(283 307)"><circle r="11"/><text y="-1">352</text><text y="5.5">29</text></g>
<g id="L6149" transform="translate(307 294)"><circle r="10"/><text y="-1">6149</text><text y="5.5">28</text></g>
<g id="L1742" transform="translate(326 297)"><circle r="10"/><text y="-1">1742</text><text y="5.5">22</text></g>
<g id="L7048" transform="translate(345 306)"><circle r="10"/><text y="-1">7048</text><text y="5.5">9</text></g>
<g id="L49" transform="translate(275 327)"><circle r="11"/><text y="-1">5397</text><text y="5.5">49</text></g>
<g id="L7457" transform="translate(300 325)"><circle r="12"/><text y="-1">7457</text><text y="5.5">41</text></g>
<g id="L6280" transform="translate(316 322)"><circle r="16"/><text y="-1">6280</text><text y="5.5">66</text></g>
<g id="L5296" transform="translate(268 312)"><circle r="11"/><text y="-1">5296</text><text y="5.5">111</text></g>
<g id="L668" transform="translate(248 317)"><circle r="10"/><text y="-1">668</text><text y="5.5">19</text></g>
<g id="L1505" transform="translate(291 317)"><circle r="10"/><text y="-1">1505</text><text y="5.5">47</text></g>
<g id="L3844" transform="translate(343 322)"><circle r="10"/><text y="-1">3844</text><text y="5.5">20</text></g>
<g id="L6641" transform="translate(325 315)"><circle r="11"/><text y="-1">6641</text><text y="5.5">59</text></g>
<g id="L2967" transform="translate(356 309)"><circle r="11"/><text y="-1">2967</text><text y="5.5">52</text></g>
<g id="L11855" transform="translate(377 317)"><circle r="10"/><text y="-1">11855</text><text y="5.5">8</text></g>
<g id="L10519" transform="translate(400 315)"><circle r="10"/><text y="-1">10519</text><text y="5.5">40</text></g>
<g id="L4528" transform="translate(238 328)"><circle r="10"/><text y="-1">4528</text><text y="5.5">28</text></g>
<g id="L5380" transform="translate(240 345)"><circle r="10"/><text y="-1">5380</text><text y="5.5">16</text></g>
<g id="L51" transform="translate(270 345)"><circle r="11"/><text y="-1">7140</text><text y="5.5">51</text></g>
<g id="L4000" transform="translate(255 344)"><circle r="11"/><text y="-1">4000</text><text y="5.5">63</text></g>
<g id="L1890" transform="translate(300 350)"><circle r="10"/><text y="-1">1890</text><text y="5.5">9</text></g>
<g id="L3257" transform="translate(289 339)"><circle r="11"/><text y="-1">3257</text><text y="5.5">60</text></g>
<g id="L6848" transform="translate(345 353)"><circle r="11"/><text y="-1">6848</text><text y="5.5">23</text></g>
<g id="L68" transform="translate(320 360)"><circle r="11"/><text y="-1">5931</text><text y="5.5">68</text></g>
<g id="L5520" transform="translate(318 347)"><circle r="10"/><text y="-1">5520</text><text y="5.5">27</text></g>
<g id="L8070" transform="translate(332 343)"><circle r="10"/><text y="-1">8070</text><text y="5.5">13</text></g>
<g id="L391" transform="translate(376 343)"><circle r="10"/><text y="-1">391</text><text y="5.5">20</text></g>
<g id="L3779" transform="translate(361 341)"><circle r="10"/><text y="-1">3779</text><text y="5.5">7</text></g>
<g id="L6352" transform="translate(409 342)"><circle r="10"/><text y="-1">6352</text><text y="5.5">5</text></g>
<g id="L11329" transform="translate(391 336)"><circle r="10"/><text y="-1">11329</text><text y="5.5">7</text></g>
<g id="L7284" transform="translate(397 360)"><circle r="10"/><text y="-1">7284</text><text y="5.5">5</text></g>
<g id="L6823" transform="translate(370 375)"><circle r="10"/><text y="-1">6823</text><text y="5.5">20</text></g>
<g id="L10912" transform="translate(367 358)"><circle r="10"/><text y="-1">10912</text><text y="5.5">24</text></g>
<g id="L8120" transform="translate(391 377)"><circle r="10"/><text y="-1">8120</text><text y="5.5">5</text></g>
<g id="L12179" transform="translate(297 362)"><circle r="10"/><text y="-1">12179</text><text y="5.5">12</text></g>
<g id="L1833" transform="translate(342 367)"><circle r="10"/><text y="-1">1833</text><text y="5.5">25</text></g>
<g id="L7108" transform="translate(333 378)"><circle r="10"/><text y="-1">7108</text><text y="5.5">8</text></g>
<g id="L7374" transform="translate(281 378)"><circle r="10"/><text y="-1">7374</text><text y="5.5">7</text></g>
<g id="L33" transform="translate(308 382)"><circle r="10"/><text y="-1">33</text><text y="5.5">5</text></g>
<g id="L1059" transform="translate(355 385)"><circle r="10"/><text y="-1">1059</text><text y="5.5">8</text></g>
<g id="L2856" transform="translate(318 393)"><circle r="10"/><text y="-1">2856</text><text y="5.5">34</text></g>
<g id="L6491" transform="translate(369 411)"><circle r="10"/><text y="-1">6491</text><text y="5.5">4</text></g>
<g id="L5206" transform="translate(387 408)"><circle r="10"/><text y="-1">5206</text><text y="5.5">4</text></g>
<g id="L4278" transform="translate(406 407)"><circle r="10"/><text y="-1">4278</text><text y="5.5">4</text></g>
<g id="L10827" transform="translate(373 396)"><circle r="10"/><text y="-1">10827</text><text y="5.5">6</text></g>
<g id="L11104" transform="translate(396 392)"><circle r="10"/><text y="-1">11104</text><text y="5.5">4</text></g>

<g id="R3220" transform="translate(878 133)"><circle r="25"/><text y="-1">3220</text><text y="5.5">376</text></g>
<g id="R5303" transform="translate(890 118)"><circle r="24"/><text y="-1">5303</text><text y="5.5">819</text></g>
<g id="R2516" transform="translate(872 104)"><circle r="17.5"/><text y="-1">2516</text><text y="5.5">453</text></g>
<g id="R7473" transform="translate(852 130)"><circle r="12.5"/><text y="-1">7473</text><text y="5.5">134</text></g>
<g id="R4589" transform="translate(868 165)"><circle r="25.5"/><text y="-1">4589</text><text y="5.5">962</text></g>
<g id="R5466" transform="translate(905 154)"><circle r="11.5"/><text y="-1">5466</text><text y="5.5">68</text></g>
<g id="R11598" transform="translate(758 28)"><circle r="10"/><text y="-1">11598</text><text y="5.5">4</text></g>
<g id="R6301" transform="translate(810 23)"><circle r="10"/><text y="-1">6301</text><text y="5.5">5</text></g>
<g id="R18708" transform="translate(783 43)"><circle r="10"/><text y="-1">18708</text><text y="5.5">3</text></g>
<g id="R6482" transform="translate(711 49)"><circle r="10"/><text y="-1">6482</text><text y="5.5">3</text></g>
<g id="R15130" transform="translate(740 51)"><circle r="10"/><text y="-1">15130</text><text y="5.5">3</text></g>
<g id="R11302" transform="translate(681 59)"><circle r="10"/><text y="-1">11302</text><text y="5.5">3</text></g>
<g id="R19916" transform="translate(771 77)"><circle r="10"/><text y="-1">19916</text><text y="5.5">3</text></g>
<g id="R16524" transform="translate(650 75)"><circle r="10"/><text y="-1">16524</text><text y="5.5">2</text></g>
<g id="R26979" transform="translate(731 83)"><circle r="10"/><text y="-1">26979</text><text y="5.5">2</text></g>
<g id="R3599" transform="translate(810 83)"><circle r="10"/><text y="-1">3599</text><text y="5.5">7</text></g>
<g id="R6968" transform="translate(701 91)"><circle r="10"/><text y="-1">6968</text><text y="5.5">2</text></g>
<g id="R26925" transform="translate(619 105)"><circle r="10"/><text y="-1">26925</text><text y="5.5">2</text></g>
<g id="R6122" transform="translate(646 111)"><circle r="10"/><text y="-1">6122</text><text y="5.5">9</text></g>
<g id="R22962" transform="translate(674 104)"><circle r="10"/><text y="-1">22962</text><text y="5.5">2</text></g>
<g id="R3494" transform="translate(754 113)"><circle r="10"/><text y="-1">3494</text><text y="5.5">2</text></g>
<g id="R19103" transform="translate(794 120)"><circle r="10"/><text y="-1">19103</text><text y="5.5">2</text></g>
<g id="R11051" transform="translate(610 134)"><circle r="10"/><text y="-1">11051</text><text y="5.5">2</text></g>
<g id="R7963" transform="translate(700 135)"><circle r="10"/><text y="-1">7963</text><text y="5.5">3</text></g>
<g id="R17129" transform="translate(737 141)"><circle r="10"/><text y="-1">17129</text><text y="5.5">2</text></g>
<g id="R26848" transform="translate(583 145)"><circle r="10"/><text y="-1">26848</text><text y="5.5">2</text></g>
<g id="R13865" transform="translate(663 145)"><circle r="10"/><text y="-1">13865</text><text y="5.5">2</text></g>
<g id="R14022" transform="translate(806 158)"><circle r="10"/><text y="-1">14022</text><text y="5.5">3</text></g>
<g id="R3495" transform="translate(633 162)"><circle r="10"/><text y="-1">3495</text><text y="5.5">2</text></g>
<g id="R18963" transform="translate(706 180)"><circle r="10"/><text y="-1">18963</text><text y="5.5">1</text></g>
<g id="R20220" transform="translate(757 176)"><circle r="10"/><text y="-1">20220</text><text y="5.5">2</text></g>
<g id="R11716" transform="translate(602 177)"><circle r="10"/><text y="-1">11716</text><text y="5.5">3</text></g>
<g id="R11869" transform="translate(573 181)"><circle r="10"/><text y="-1">11869</text><text y="5.5">2</text></g>
<g id="R10806" transform="translate(667 187)"><circle r="10"/><text y="-1">10806</text><text y="5.5">4</text></g>
<g id="R14344" transform="translate(628 201)"><circle r="10"/><text y="-1">14344</text><text y="5.5">1</text></g>
<g id="R63" transform="translate(554 207)"><circle r="10"/><text y="-1">63</text><text y="5.5">3</text></g>
<g id="R13789" transform="translate(580 220)"><circle r="11"/><text y="-1">13789</text><text y="5.5">20</text></g>
<g id="R6118" transform="translate(610 233)"><circle r="10"/><text y="-1">6118</text><text y="5.5">2</text></g>
<g id="R10317" transform="translate(687 225)"><circle r="10"/><text y="-1">10317</text><text y="5.5">3</text></g>
<g id="R30885" transform="translate(794 223)"><circle r="10"/><text y="-1">30885</text><text y="5.5">2</text></g>
<g id="R15298" transform="translate(651 241)"><circle r="10"/><text y="-1">15298</text><text y="5.5">2</text></g>
<g id="R22063" transform="translate(746 247)"><circle r="10"/><text y="-1">22063</text><text y="5.5">3</text></g>
<g id="R4927" transform="translate(551 244)"><circle r="10"/><text y="-1">4927</text><text y="5.5">4</text></g>
<g id="R6139" transform="translate(588 259)"><circle r="10"/><text y="-1">6139</text><text y="5.5">2</text></g>
<g id="R11669" transform="translate(559 275)"><circle r="10"/><text y="-1">11669</text><text y="5.5">6</text></g>
<g id="R14835" transform="translate(632 274)"><circle r="10"/><text y="-1">14835</text><text y="5.5">1</text></g>
<g id="R26203" transform="translate(847 32)"><circle r="10"/><text y="-1">26203</text><text y="5.5">2</text></g>
<g id="R21777" transform="translate(885 36)"><circle r="10"/><text y="-1">21777</text><text y="5.5">2</text></g>
<g id="R2714" transform="translate(823 54)"><circle r="10"/><text y="-1">2714</text><text y="5.5">2</text></g>
<g id="R226" transform="translate(872 64)"><circle r="10"/><text y="-1">226</text><text y="5.5">16</text></g>
<g id="R20119" transform="translate(908 61)"><circle r="10"/><text y="-1">20119</text><text y="5.5">2</text></g>
<g id="R16405" transform="translate(940 62)"><circle r="10"/><text y="-1">16405</text><text y="5.5">1</text></g>
<g id="R2381" transform="translate(850 88)"><circle r="10"/><text y="-1">2381</text><text y="5.5">28</text></g>
<g id="R14480" transform="translate(937 92)"><circle r="10"/><text y="-1">14480</text><text y="5.5">4</text></g>
<g id="R18694" transform="translate(974 86)"><circle r="10"/><text y="-1">18694</text><text y="5.5">3</text></g>
<g id="R10794" transform="translate(931 136)"><circle r="10"/><text y="-1">10794</text><text y="5.5">7</text></g>
<g id="R20060" transform="translate(966 119)"><circle r="10"/><text y="-1">20060</text><text y="5.5">2</text></g>
<g id="R26319" transform="translate(999 114)"><circle r="10"/><text y="-1">26319</text><text y="5.5">2</text></g>
<g id="R13471" transform="translate(1015 139)"><circle r="10"/><text y="-1">13471</text><text y="5.5">1</text></g>
<g id="R14011" transform="translate(973 153)"><circle r="10"/><text y="-1">14011</text><text y="5.5">2</text></g>
<g id="R13819" transform="translate(1033 165)"><circle r="10"/><text y="-1">13819</text><text y="5.5">4</text></g>
<g id="R13890" transform="translate(1000 174)"><circle r="10"/><text y="-1">13890</text><text y="5.5">2</text></g>
<g id="R27402" transform="translate(933 189)"><circle r="10"/><text y="-1">27402</text><text y="5.5">1</text></g>
<g id="R6062" transform="translate(966 193)"><circle r="10"/><text y="-1">6062</text><text y="5.5">7</text></g>
<g id="R4536" transform="translate(895 213)"><circle r="10"/><text y="-1">4536</text><text y="5.5">3</text></g>
<g id="R2559" transform="translate(1012 207)"><circle r="10"/><text y="-1">2559</text><text y="5.5">4</text></g>
<g id="R10864" transform="translate(1046 196)"><circle r="10"/><text y="-1">10864</text><text y="5.5">2</text></g>
<g id="R3705" transform="translate(978 225)"><circle r="10"/><text y="-1">3705</text><text y="5.5">1</text></g>
<g id="R11787" transform="translate(848 244)"><circle r="10"/><text y="-1">11787</text><text y="5.5">3</text></g>
<g id="R27022" transform="translate(931 245)"><circle r="10"/><text y="-1">27022</text><text y="5.5">1</text></g>
<g id="R11525" transform="translate(1030 237)"><circle r="10"/><text y="-1">11525</text><text y="5.5">2</text></g>
<g id="R13087" transform="translate(1058 226)"><circle r="10"/><text y="-1">13087</text><text y="5.5">2</text></g>
<g id="R14298" transform="translate(1062 259)"><circle r="10"/><text y="-1">14298</text><text y="5.5">2</text></g>
<g id="R13828" transform="translate(972 261)"><circle r="10"/><text y="-1">13828</text><text y="5.5">3</text></g>
<g id="R10373" transform="translate(1006 263)"><circle r="10"/><text y="-1">10373</text><text y="5.5">2</text></g>
<g id="R2881" transform="translate(678 283)"><circle r="10"/><text y="-1">2881</text><text y="5.5">2</text></g>
<g id="R11407" transform="translate(742 297)"><circle r="10"/><text y="-1">11407</text><text y="5.5">3</text></g>
<g id="R22325" transform="translate(551 299)"><circle r="10"/><text y="-1">22325</text><text y="5.5">4</text></g>
<g id="R12181" transform="translate(590 295)"><circle r="11"/><text y="-1">12181</text><text y="5.5">34</text></g>
<g id="R21545" transform="translate(630 308)"><circle r="10"/><text y="-1">21545</text><text y="5.5">6</text></g>
<g id="R19130" transform="translate(551 327)"><circle r="10"/><text y="-1">19130</text><text y="5.5">4</text></g>
<g id="R5977" transform="translate(570 346)"><circle r="10"/><text y="-1">5977</text><text y="5.5">2</text></g>
<g id="R27448" transform="translate(605 332)"><circle r="10"/><text y="-1">27448</text><text y="5.5">2</text></g>
<g id="R22471" transform="translate(665 327)"><circle r="10"/><text y="-1">22471</text><text y="5.5">2</text></g>
<g id="R27412" transform="translate(782 337)"><circle r="10"/><text y="-1">27412</text><text y="5.5">5</text></g>
<g id="R11264" transform="translate(702 352)"><circle r="10"/><text y="-1">11264</text><text y="5.5">2</text></g>
<g id="R10516" transform="translate(638 361)"><circle r="10"/><text y="-1">10516</text><text y="5.5">2</text></g>
<g id="R17317" transform="translate(597 366)"><circle r="10"/><text y="-1">17317</text><text y="5.5">2</text></g>
<g id="R26492" transform="translate(564 378)"><circle r="10"/><text y="-1">26492</text><text y="5.5">1</text></g>
<g id="R30163" transform="translate(670 380)"><circle r="10"/><text y="-1">30163</text><text y="5.5">2</text></g>
<g id="R20427" transform="translate(749 382)"><circle r="10"/><text y="-1">20427</text><text y="5.5">3</text></g>
<g id="R189" transform="translate(609 395)"><circle r="10"/><text y="-1">189</text><text y="5.5">2</text></g>
<g id="R26091" transform="translate(580 409)"><circle r="10"/><text y="-1">26091</text><text y="5.5">3</text></g>
<g id="R15084" transform="translate(639 407)"><circle r="10"/><text y="-1">15084</text><text y="5.5">8</text></g>
<g id="R12192" transform="translate(719 406)"><circle r="10"/><text y="-1">12192</text><text y="5.5">5</text></g>
<g id="R10700" transform="translate(680 417)"><circle r="10"/><text y="-1">10700</text><text y="5.5">3</text></g>
<g id="R14418" transform="translate(771 419)"><circle r="10"/><text y="-1">14418</text><text y="5.5">4</text></g>
<g id="R6349" transform="translate(600 436)"><circle r="10"/><text y="-1">6349</text><text y="5.5">3</text></g>
<g id="R21984" transform="translate(631 438)"><circle r="10"/><text y="-1">21984</text><text y="5.5">2</text></g>
<g id="R11382" transform="translate(714 443)"><circle r="10"/><text y="-1">11382</text><text y="5.5">2</text></g>
<g id="R6435" transform="translate(667 449)"><circle r="10"/><text y="-1">6435</text><text y="5.5">3</text></g>
<g id="R12270" transform="translate(808 449)"><circle r="10"/><text y="-1">12270</text><text y="5.5">3</text></g>
<g id="R14589" transform="translate(777 461)"><circle r="10"/><text y="-1">14589</text><text y="5.5">5</text></g>
<g id="R21617" transform="translate(743 463)"><circle r="10"/><text y="-1">21617</text><text y="5.5">2</text></g>
<g id="R201" transform="translate(626 470)"><circle r="10"/><text y="-1">201</text><text y="5.5">1</text></g>
<g id="R17100" transform="translate(657 482)"><circle r="10"/><text y="-1">17100</text><text y="5.5">2</text></g>
<g id="R13663" transform="translate(697 474)"><circle r="10"/><text y="-1">13663</text><text y="5.5">2</text></g>
<g id="R26157" transform="translate(734 495)"><circle r="10"/><text y="-1">26157</text><text y="5.5">2</text></g>
<g id="R19570" transform="translate(804 492)"><circle r="10"/><text y="-1">19570</text><text y="5.5">2</text></g>
<g id="R25900" transform="translate(772 503)"><circle r="10"/><text y="-1">25900</text><text y="5.5">3</text></g>
<g id="R5113" transform="translate(677 503)"><circle r="10"/><text y="-1">5113</text><text y="5.5">2</text></g>
<g id="R22883" transform="translate(707 515)"><circle r="10"/><text y="-1">22883</text><text y="5.5">3</text></g>
<g id="R20167" transform="translate(738 529)"><circle r="10"/><text y="-1">20167</text><text y="5.5">2</text></g>
<g id="R3405" transform="translate(770 535)"><circle r="10"/><text y="-1">3405</text><text y="5.5">1</text></g>
<g id="R14500" transform="translate(802 533)"><circle r="10"/><text y="-1">14500</text><text y="5.5">2</text></g>
<g id="R6564" transform="translate(1036 278)"><circle r="10"/><text y="-1">6564</text><text y="5.5">1</text></g>
<g id="R11562" transform="translate(1065 296)"><circle r="10"/><text y="-1">11562</text><text y="5.5">15</text></g>
<g id="R29074" transform="translate(907 290)"><circle r="10"/><text y="-1">29074</text><text y="5.5">1</text></g>
<g id="R4963" transform="translate(957 296)"><circle r="10"/><text y="-1">4963</text><text y="5.5">2</text></g>
<g id="R1343" transform="translate(1005 306)"><circle r="10"/><text y="-1">1343</text><text y="5.5">4</text></g>
<g id="R27600" transform="translate(1042 315)"><circle r="10"/><text y="-1">27600</text><text y="5.5">2</text></g>
<g id="R26841" transform="translate(974 330)"><circle r="10"/><text y="-1">26841</text><text y="5.5">1</text></g>
<g id="R18930" transform="translate(846 325)"><circle r="10"/><text y="-1">18930</text><text y="5.5">3</text></g>
<g id="R7738" transform="translate(930 336)"><circle r="10.5"/><text y="-1">7738</text><text y="5.5">40</text></g>
<g id="R21857" transform="translate(1022 343)"><circle r="10"/><text y="-1">21857</text><text y="5.5">2</text></g>
<g id="R10323" transform="translate(1058 343)"><circle r="10"/><text y="-1">10323</text><text y="5.5">2</text></g>
<g id="R12037" transform="translate(991 361)"><circle r="10"/><text y="-1">12037</text><text y="5.5">2</text></g>
<g id="R26553" transform="translate(895 361)"><circle r="10"/><text y="-1">26553</text><text y="5.5">1</text></g>
<g id="R19300" transform="translate(951 374)"><circle r="10"/><text y="-1">19300</text><text y="5.5">2</text></g>
<g id="R16831" transform="translate(1045 374)"><circle r="10"/><text y="-1">16831</text><text y="5.5">1</text></g>
<g id="R17170" transform="translate(1016 387)"><circle r="10"/><text y="-1">17170</text><text y="5.5">2</text></g>
<g id="R14320" transform="translate(859 392)"><circle r="10"/><text y="-1">14320</text><text y="5.5">2</text></g>
<g id="R7949" transform="translate(986 401)"><circle r="10"/><text y="-1">7949</text><text y="5.5">5</text></g>
<g id="R5750" transform="translate(905 406)"><circle r="10"/><text y="-1">5750</text><text y="5.5">2</text></g>
<g id="R22110" transform="translate(944 408)"><circle r="10"/><text y="-1">22110</text><text y="5.5">3</text></g>
<g id="R22277" transform="translate(1029 413)"><circle r="10"/><text y="-1">22277</text><text y="5.5">3</text></g>
<g id="R14927" transform="translate(817 405)"><circle r="10"/><text y="-1">14927</text><text y="5.5">3</text></g>
<g id="R23427" transform="translate(865 433)"><circle r="10"/><text y="-1">23427</text><text y="5.5">2</text></g>
<g id="R70" transform="translate(977 433)"><circle r="10"/><text y="-1">70</text><text y="5.5">2</text></g>
<g id="R7914" transform="translate(1008 439)"><circle r="10"/><text y="-1">7914</text><text y="5.5">2</text></g>
<g id="R30607" transform="translate(942 443)"><circle r="10"/><text y="-1">30607</text><text y="5.5">2</text></g>
<g id="R23351" transform="translate(897 450)"><circle r="10"/><text y="-1">23351</text><text y="5.5">3</text></g>
<g id="R3134" transform="translate(842 462)"><circle r="10"/><text y="-1">3134</text><text y="5.5">2</text></g>
<g id="R19888" transform="translate(985 465)"><circle r="10"/><text y="-1">19888</text><text y="5.5">2</text></g>
<g id="R10719" transform="translate(928 470)"><circle r="10"/><text y="-1">10719</text><text y="5.5">3</text></g>
<g id="R13662" transform="translate(959 482)"><circle r="10"/><text y="-1">13662</text><text y="5.5">6</text></g>
<g id="R6541" transform="translate(870 487)"><circle r="10"/><text y="-1">6541</text><text y="5.5">2</text></g>
<g id="R16798" transform="translate(903 493)"><circle r="10"/><text y="-1">16798</text><text y="5.5">1</text></g>
<g id="R2933" transform="translate(933 506)"><circle r="10"/><text y="-1">2933</text><text y="5.5">3</text></g>
<g id="R23479" transform="translate(835 504)"><circle r="10"/><text y="-1">23479</text><text y="5.5">2</text></g>
<g id="R12007" transform="translate(863 524)"><circle r="10"/><text y="-1">12007</text><text y="5.5">4</text></g>
<g id="R11020" transform="translate(894 523)"><circle r="10"/><text y="-1">11020</text><text y="5.5">2</text></g>
<g id="R6167" transform="translate(834 538)"><circle r="10"/><text y="-1">6167</text><text y="5.5">4</text></g>
<g id="hubR" transform="translate(805 283)"><circle class="h" r="13"/><text y="-1">1</text><text y="5.5">163</text></g>
<g id="hubB" transform="translate(310 817)"><circle class="h" r="22"/><text y="-1">1</text><text y="5.5">8</text></g>
<g id="B14188" transform="translate(320 575)"><circle r="13"/><text y="-1">14188</text><text y="5.5">5</text></g>
<g id="B6296" transform="translate(485 564)"><circle r="10"/><text y="-1">6296</text><text y="5.5">4</text></g>
<g id="B6062" transform="translate(34 772)"><circle r="22"/><text y="-1">6062</text><text y="5.5">8</text></g>
<g id="B10367" transform="translate(233 1056)"><circle r="25"/><text y="-1">10367</text><text y="5.5">9</text></g>
<g id="B11598" transform="translate(524 1039)"><circle r="10"/><text y="-1">11598</text><text y="5.5">4</text></g>
<g id="hubC" transform="translate(588 1044)"><circle class="h" r="23"/><text y="-1">1</text><text y="5.5">54</text></g>
<g id="C37678" transform="translate(1047 586)"><circle r="10"/><text y="-1">37678</text><text y="5.5">4</text></g>
</g>
</svg>
